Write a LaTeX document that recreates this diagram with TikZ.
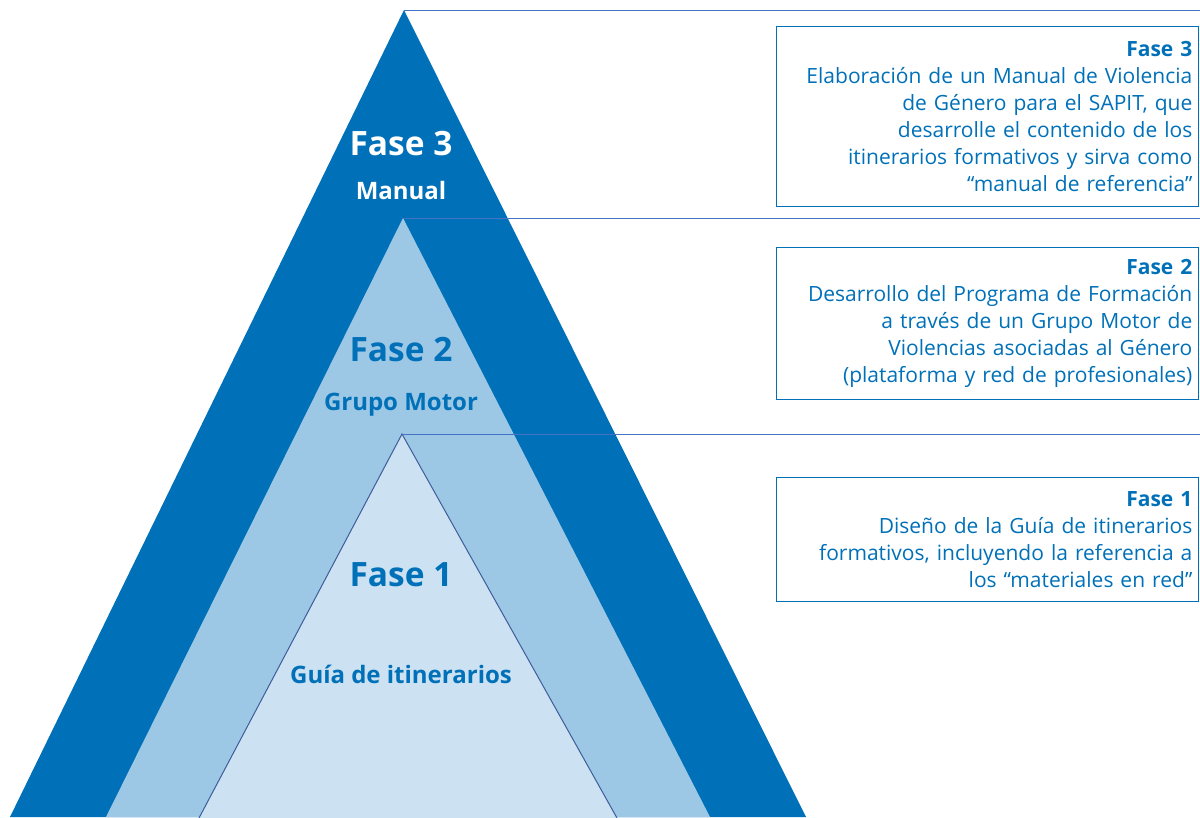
\documentclass[tikz,border=0pt]{standalone}
\usepackage{fontspec}
\setmainfont{Open Sans}
\usetikzlibrary{positioning}
\definecolor{FaseDark}{HTML}{0070B8}
\definecolor{FaseMid}{HTML}{9CC8E5}
\definecolor{FaseLight}{HTML}{CCE1F2}
\definecolor{LinkBlue}{HTML}{4472C4}
\definecolor{EdgeBlue}{HTML}{3F5C9A}

\begin{document}
\begin{tikzpicture}[x=1pt, y=-1pt,
  phase/.style ={draw=FaseDark, line width=1.3pt, align=right,
    text width=410pt, inner xsep=6pt, text=FaseDark,
    font=\fontsize{21}{27}\selectfont, anchor=north east},
  %
  level/.style ={anchor=base, font=\bfseries\fontsize{33.5}{33.5}\selectfont},
  sublevel/.style ={anchor=base, font=\bfseries\fontsize{24}{24}\selectfont},
  link/.style ={draw=LinkBlue, line width=1pt} ]

  \useasboundingbox (0,0) rectangle (1200,817);

  \begin{scope}
    \coordinate (top3) at (404,10);
    \coordinate (top2) at (403,218);
    \coordinate (top1) at (402,434);
    \fill [FaseDark] (top3) -- (10,817) -- (806,817) -- cycle;
    \fill [FaseMid] (top2) -- (106,817) -- (710,817) -- cycle;
    \fill [FaseLight, draw=EdgeBlue, line width=1pt] (199,818) -- (top1) -- (617,818);
  \end{scope}

  \begin{scope}
    %%%%%%%%%%%%%%%%%%%%%%%%%%%%%%%
    \node [level, white] (fase3) at (401,155) {Fase 3};
    \node [sublevel, white] (manual) at (401,199) {Manual};
    \node [level, FaseDark] (fase2) at (401,361) {Fase 2};
    \node [sublevel, FaseDark] (grupo) at (401,410) {Grupo Motor};
    \node [level, FaseDark] (fase1) at (401,586) {Fase 1};
    \node [sublevel, FaseDark] (guia) at (401,683) {Guía de itinerarios};
    %%%%%%%%%%%%%%%%%%%%%%%%%%%%%%%
  \end{scope}

  \begin{scope}
    \node [phase, minimum height=180pt] (box3) at (1199,26) {%
      \textbf{Fase 3}\\
      Elaboración de un Manual de Violencia\\
      de Género para el SAPIT, que\\
      desarrolle el contenido de los\\
      itinerarios formativos y sirva como\\
      “manual de referencia”};
    \node [phase, minimum height=152pt] (box2) at (1199,247) {%
      \textbf{Fase 2}\\
      Desarrollo del Programa de Formación\\
      a través de un Grupo Motor de\\
      Violencias asociadas al Género\\
      (plataforma y red de profesionales)};
    \node [phase, minimum height=124pt] (box1) at (1199,477) {%
      \textbf{Fase 1}\\
      Diseño de la Guía de itinerarios\\
      formativos, incluyendo la referencia a\\
      los “materiales en red”};
  \end{scope}

  \begin{scope}
    \coordinate (edge3) at (1200,10);
    \coordinate (edge2) at (1200,218);
    \coordinate (edge1) at (1200,434);
    \draw [link] (top3) -- (edge3);
    \draw [link] (top2) -- (edge2);
    \draw [link] (top1) -- (edge1);
  \end{scope}

\end{tikzpicture}
\end{document}
